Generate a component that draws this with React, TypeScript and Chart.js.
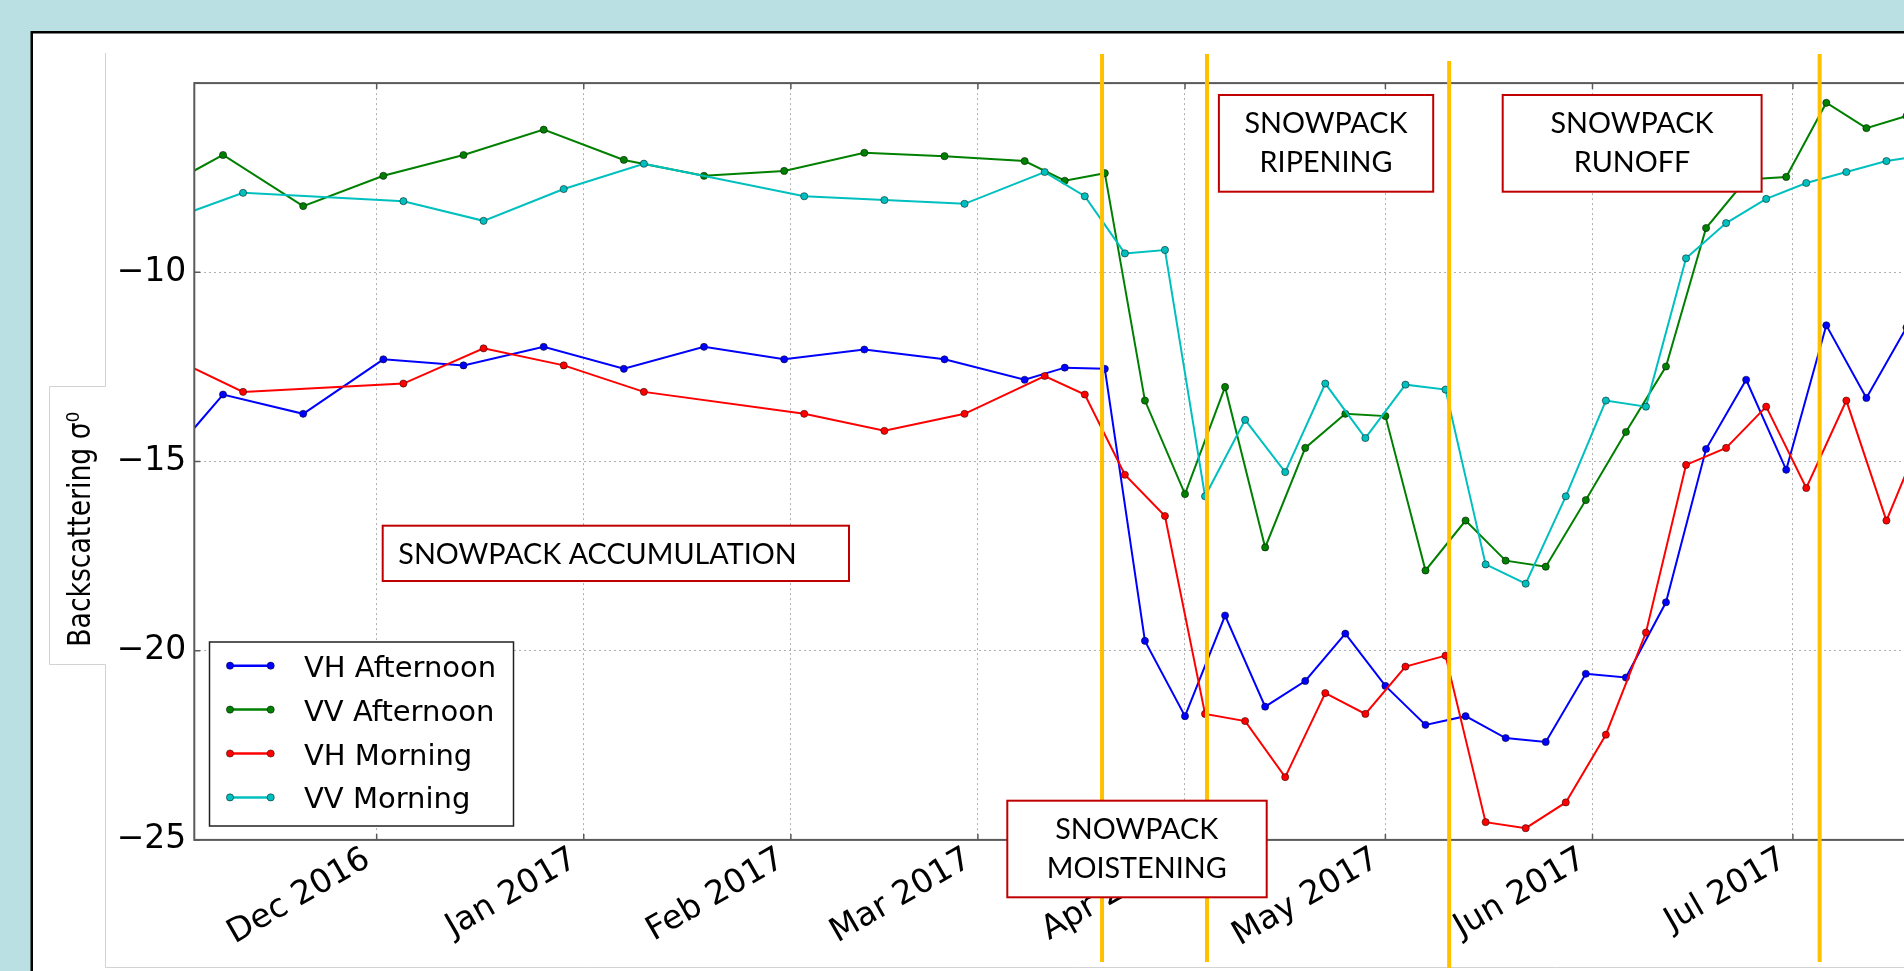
import React, { useEffect, useRef } from 'react';
import { Chart, registerables } from 'chart.js';

Chart.register(...registerables);

// ---------- data ----------
const afternoonDates = [
  '2016-10-27', '2016-11-08', '2016-11-20', '2016-12-02', '2016-12-14', '2016-12-26',
  '2017-01-07', '2017-01-19', '2017-01-31', '2017-02-12', '2017-02-24', '2017-03-08',
  '2017-03-14', '2017-03-20', '2017-03-26', '2017-04-01', '2017-04-07', '2017-04-13',
  '2017-04-19', '2017-04-25', '2017-05-01', '2017-05-07', '2017-05-13', '2017-05-19',
  '2017-05-25', '2017-05-31', '2017-06-06', '2017-06-12', '2017-06-18', '2017-06-24',
  '2017-06-30', '2017-07-06', '2017-07-12', '2017-07-18',
];
const vhAfternoon = [
  -15.7, -13.23, -13.74, -12.3, -12.46, -11.97, -12.55, -11.97, -12.3, -12.04, -12.3, -12.84,
  -12.52, -12.55, -19.74, -21.73, -19.07, -21.48, -20.8, -19.55, -20.93, -21.96, -21.73, -22.31,
  -22.41, -20.61, -20.71, -18.72, -14.67, -12.84, -15.22, -11.4, -13.32, -11.46,
];
const vvAfternoon = [
  -8.05, -6.9, -8.25, -7.45, -6.9, -6.23, -7.03, -7.45, -7.32, -6.84, -6.93, -7.06,
  -7.58, -7.38, -13.39, -15.86, -13.03, -17.27, -14.64, -13.74, -13.8, -17.88, -16.56, -17.62,
  -17.78, -16.02, -14.22, -12.49, -8.83, -7.55, -7.48, -5.52, -6.19, -5.87,
];
const morningDates = [
  '2016-10-30', '2016-11-11', '2016-12-05', '2016-12-17', '2016-12-29', '2017-01-10',
  '2017-02-03', '2017-02-15', '2017-02-27', '2017-03-11', '2017-03-17', '2017-03-23',
  '2017-03-29', '2017-04-04', '2017-04-10', '2017-04-16', '2017-04-22', '2017-04-28',
  '2017-05-04', '2017-05-10', '2017-05-16', '2017-05-22', '2017-05-28', '2017-06-03',
  '2017-06-09', '2017-06-15', '2017-06-21', '2017-06-27', '2017-07-03', '2017-07-09',
  '2017-07-15', '2017-07-21',
];
const vhMorning = [
  -12.15, -13.16, -12.94, -12.01, -12.46, -13.16, -13.74, -14.19, -13.74, -12.74, -13.23, -15.35,
  -16.44, -21.67, -21.86, -23.34, -21.12, -21.67, -20.42, -20.13, -24.53, -24.69, -24.01, -22.22,
  -19.52, -15.09, -14.64, -13.55, -15.7, -13.39, -16.56, -14.0,
];
const vvMorning = [
  -8.67, -7.9, -8.12, -8.64, -7.8, -7.13, -7.99, -8.09, -8.19, -7.35, -7.99, -9.5,
  -9.41, -15.92, -13.9, -15.28, -12.94, -14.38, -12.97, -13.1, -17.72, -18.23, -15.92, -13.39,
  -13.55, -9.63, -8.7, -8.06, -7.64, -7.35, -7.06, -6.9,
];

const seriesLabels = ['VH Afternoon', 'VV Afternoon', 'VH Morning', 'VV Morning'];
const seriesColors = ['#0000ff', '#008000', '#ff0000', '#00bfbf'];

const monthTicks = [
  '2016-12-01', '2017-01-01', '2017-02-01', '2017-03-01',
  '2017-04-01', '2017-05-01', '2017-06-01', '2017-07-01',
];
const monthLabels = [
  'Dec 2016', 'Jan 2017', 'Feb 2017', 'Mar 2017', 'Apr 2017', 'May 2017', 'Jun 2017', 'Jul 2017',
];
const yTickValues = [-25, -20, -15, -10, -5];

const phaseBoundaries = ['2017-03-19T14:00Z', '2017-04-04T07:00Z', '2017-05-10T13:00Z', '2017-07-05T00:00Z'];
const phaseLabels = [
  ['SNOWPACK ACCUMULATION'],
  ['SNOWPACK', 'MOISTENING'],
  ['SNOWPACK', 'RIPENING'],
  ['SNOWPACK', 'RUNOFF'],
];
const yAxisTitle = 'Backscattering σ\u2070';

// ---------- helpers ----------
const BASE = Date.parse('2016-12-01');
const toDay = (s: string) => (Date.parse(s) - BASE) / 86400000;
const X_MIN = -27.3;
const X_MAX = 243;

const W = 2040;
const H = 975;

// decorations (page pixels)
const phaseLineSpans = [[54, 962], [54, 962], [61, 968], [54, 962]];
const boxRects = [
  { l: 382.7, t: 525.7, r: 849, b: 581, align: 'left', tx: 398.3, bl: [564] },
  { l: 1007.3, t: 800.7, r: 1266.7, b: 897.3, align: 'center', tx: 1136.7, bl: [839, 878.3] },
  { l: 1218.9, t: 95, r: 1433.2, b: 191.7, align: 'center', tx: 1326, bl: [133.3, 172.3] },
  { l: 1502.7, t: 95, r: 1761.6, b: 191.7, align: 'center', tx: 1632, bl: [133.3, 172.3] },
];

const backgroundPlugin = {
  id: 'bgPanel',
  beforeDraw(chart: any) {
    const { ctx, width, height } = chart;
    ctx.save();
    ctx.fillStyle = '#bbe0e3';
    ctx.fillRect(0, 0, width, height);
    ctx.fillStyle = '#ffffff';
    ctx.fillRect(31.5, 32, width, height);
    ctx.strokeStyle = '#000000';
    ctx.lineWidth = 2.5;
    ctx.strokeRect(31.75, 32.25, width + 20, height + 20);

    // faint figure frame + y-label box
    ctx.strokeStyle = '#d2d2d2';
    ctx.lineWidth = 1;
    ctx.beginPath();
    ctx.moveTo(105.5, 53);
    ctx.lineTo(105.5, 386.5);
    ctx.lineTo(49.5, 386.5);
    ctx.lineTo(49.5, 664.5);
    ctx.lineTo(105.5, 664.5);
    ctx.lineTo(105.5, 967.5);
    ctx.lineTo(width, 967.5);
    ctx.stroke();

    // y axis title
    ctx.fillStyle = '#000';
    ctx.font = '32px "DejaVu Sans"';
    const w = ctx.measureText(yAxisTitle).width;
    ctx.translate(90, 529.2);
    ctx.rotate(-Math.PI / 2);
    ctx.scale(235 / w, 1);
    ctx.textAlign = 'center';
    ctx.textBaseline = 'alphabetic';
    ctx.fillText(yAxisTitle, 0, 0);
    ctx.restore();
  },
};

const framePlugin = {
  id: 'frame',
  afterDatasetsDraw(chart: any) {
    const { ctx, chartArea } = chart;
    const { left, top, right, bottom } = chartArea;
    ctx.save();
    ctx.strokeStyle = '#5a5a5a';
    ctx.lineWidth = 2;
    ctx.strokeRect(left, top, right - left, bottom - top);
    ctx.lineWidth = 1.5;
    ctx.beginPath();
    chart.scales.x.ticks.forEach((t: any) => {
      const px = chart.scales.x.getPixelForValue(t.value);
      ctx.moveTo(px, bottom);
      ctx.lineTo(px, bottom - 6);
      ctx.moveTo(px, top);
      ctx.lineTo(px, top + 6);
    });
    chart.scales.y.ticks.forEach((t: any) => {
      const py = chart.scales.y.getPixelForValue(t.value);
      ctx.moveTo(left, py);
      ctx.lineTo(left + 6, py);
    });
    ctx.stroke();
    ctx.restore();
  },
};

const overlayPlugin = {
  id: 'overlay',
  afterDraw(chart: any) {
    const { ctx } = chart;
    const xs = chart.scales.x;
    ctx.save();

    // phase boundaries
    ctx.strokeStyle = '#ffc000';
    ctx.lineWidth = 4;
    phaseBoundaries.forEach((d, i) => {
      const px = xs.getPixelForValue(toDay(d));
      ctx.beginPath();
      ctx.moveTo(px, phaseLineSpans[i][0]);
      ctx.lineTo(px, phaseLineSpans[i][1]);
      ctx.stroke();
    });

    // phase boxes
    ctx.font = '29px Lato';
    const sx = 163 / ctx.measureText('SNOWPACK').width;
    boxRects.forEach((b, i) => {
      ctx.fillStyle = '#ffffff';
      ctx.fillRect(b.l, b.t, b.r - b.l, b.b - b.t);
      ctx.strokeStyle = '#c00000';
      ctx.lineWidth = 2;
      ctx.strokeRect(b.l, b.t, b.r - b.l, b.b - b.t);
      ctx.fillStyle = '#000';
      ctx.textBaseline = 'alphabetic';
      ctx.textAlign = b.align as CanvasTextAlign;
      phaseLabels[i].forEach((line, j) => {
        ctx.save();
        ctx.translate(b.tx, b.bl[j]);
        ctx.scale(sx, 1);
        ctx.fillText(line, 0, 0);
        ctx.restore();
      });
    });

    // legend
    const lx = 209.5, ly = 642, lw = 304, lh = 184;
    ctx.fillStyle = '#ffffff';
    ctx.fillRect(lx, ly, lw, lh);
    ctx.strokeStyle = '#222';
    ctx.lineWidth = 1.5;
    ctx.strokeRect(lx, ly, lw, lh);
    ctx.font = '29px "DejaVu Sans"';
    ctx.textAlign = 'left';
    ctx.textBaseline = 'alphabetic';
    chart.data.datasets.forEach((ds: any, i: number) => {
      const y = 665.7 + i * 43.9;
      ctx.strokeStyle = ds.borderColor;
      ctx.lineWidth = 2.5;
      ctx.beginPath();
      ctx.moveTo(230, y);
      ctx.lineTo(270.7, y);
      ctx.stroke();
      [230, 270.7].forEach((mx) => {
        ctx.beginPath();
        ctx.arc(mx, y, 3.6, 0, Math.PI * 2);
        ctx.fillStyle = ds.pointBackgroundColor;
        ctx.fill();
        ctx.strokeStyle = 'rgba(0,0,0,0.7)';
        ctx.lineWidth = 0.7;
        ctx.stroke();
      });
      ctx.fillStyle = '#000';
      ctx.fillText(ds.label, 304, y + 11);
    });
    ctx.restore();
  },
};

const makeDataset = (i: number, dates: string[], values: number[]) => ({
  label: seriesLabels[i],
  data: dates.map((d, k) => ({ x: toDay(d), y: values[k] })),
  borderColor: seriesColors[i],
  backgroundColor: seriesColors[i],
  pointBackgroundColor: seriesColors[i],
  pointBorderColor: 'rgba(0,0,0,0.7)',
  pointBorderWidth: 0.7,
  pointRadius: 3.6,
  pointHoverRadius: 3.6,
  borderWidth: 2,
  tension: 0,
  fill: false,
  order: 4 - i,
});

export default function App() {
  const ref = useRef<HTMLCanvasElement>(null);

  useEffect(() => {
    if (!ref.current) return;
    const tickFont = { family: '"DejaVu Sans"', size: 33 };
    const chart = new Chart(ref.current, {
      type: 'line',
      data: {
        datasets: [
          makeDataset(0, afternoonDates, vhAfternoon),
          makeDataset(1, afternoonDates, vvAfternoon),
          makeDataset(2, morningDates, vhMorning),
          makeDataset(3, morningDates, vvMorning),
        ],
      },
      options: {
        animation: false,
        responsive: false,
        devicePixelRatio: 1,
        events: [],
        layout: { padding: { left: 0, top: 83.1, right: W - 2000, bottom: 0 } },
        plugins: {
          legend: { display: false },
          tooltip: { enabled: false },
        },
        scales: {
          x: {
            type: 'linear',
            min: X_MIN,
            max: X_MAX,
            afterBuildTicks: (s: any) => {
              s.ticks = monthTicks.map((m) => ({ value: toDay(m) }));
            },
            afterFit: (s: any) => {
              s.height = H - 839.9;
            },
            ticks: {
              autoSkip: false,
              minRotation: 30,
              maxRotation: 30,
              padding: 0,
              labelOffset: -9,
              color: '#000',
              font: tickFont,
              callback: (_v: any, idx: number) => monthLabels[idx] ?? '',
            },
            grid: { color: '#b0b0b0', lineWidth: 1, drawTicks: false },
            border: { display: false, dash: [2, 3] },
          },
          y: {
            type: 'linear',
            min: -25,
            max: -5,
            afterBuildTicks: (s: any) => {
              s.ticks = yTickValues.map((v) => ({ value: v }));
            },
            afterFit: (s: any) => {
              s.width = 194.3;
            },
            ticks: {
              padding: 8,
              color: '#000',
              font: tickFont,
              callback: (v: any) => (v === -5 ? '' : '\u2212' + Math.abs(v)),
            },
            grid: { color: '#b0b0b0', lineWidth: 1, drawTicks: false },
            border: { display: false, dash: [2, 3] },
          },
        },
      } as any,
      plugins: [backgroundPlugin, framePlugin, overlayPlugin],
    });
    return () => chart.destroy();
  }, []);

  return (
    <div
      style={{
        position: 'fixed',
        left: 0,
        top: 0,
        width: '100vw',
        height: '100vh',
        overflow: 'hidden',
        background: '#bbe0e3',
      }}
    >
      <canvas ref={ref} width={W} height={H} style={{ display: 'block', width: W, height: H }} />
    </div>
  );
}
